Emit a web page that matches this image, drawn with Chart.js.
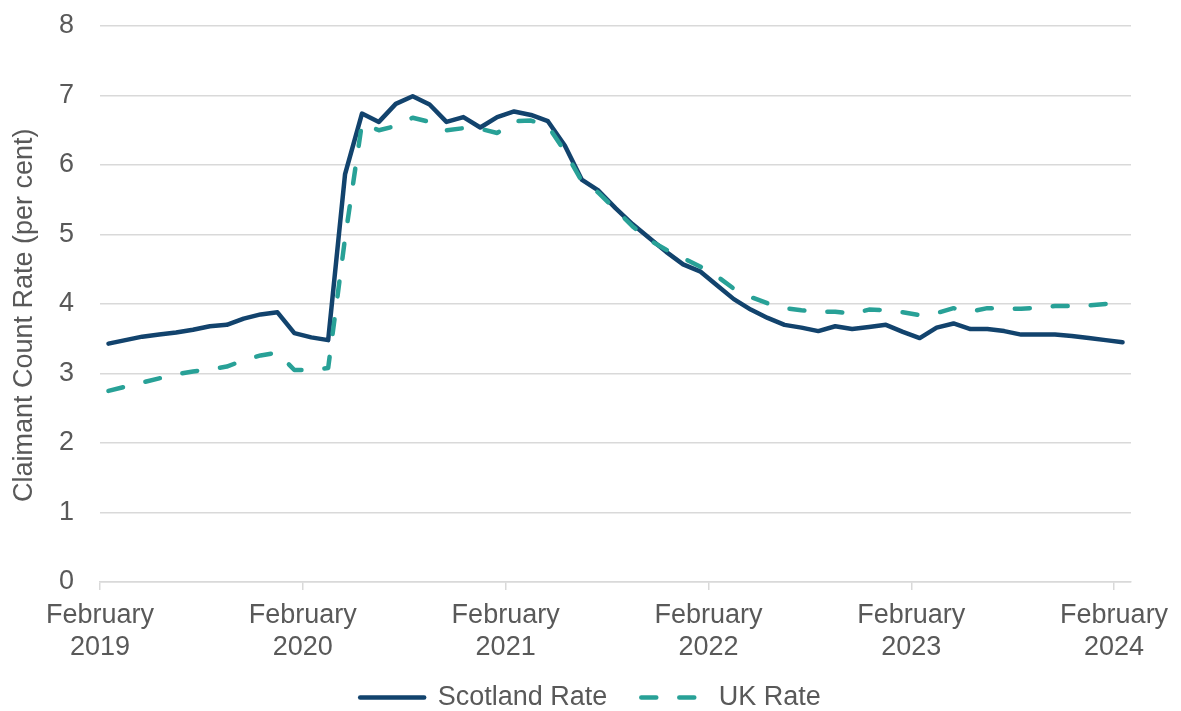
<!DOCTYPE html>
<html>
<head>
<meta charset="utf-8">
<script src="https://cdn.jsdelivr.net/npm/chart.js@4"></script>
<style>
  html, body { margin: 0; padding: 0; background: #ffffff; }
  #wrap { width: 1181px; height: 711px; }
</style>
</head>
<body>
<div id="wrap"><canvas id="lineChart" width="1181" height="711"></canvas></div>
<script>
// Monthly claimant count rates, February 2019 to February 2024
const scotlandRate = [
    3.43, 3.48, 3.53, 3.56, 3.59, 3.63, 3.68, 3.70, 3.79, 3.85, 3.88, 3.58,
    3.52, 3.48, 5.87, 6.74, 6.62, 6.88, 6.99, 6.87, 6.62, 6.69, 6.54, 6.69,
    6.77, 6.72, 6.63, 6.28, 5.79, 5.63, 5.38, 5.15, 4.95, 4.75, 4.57, 4.47,
    4.27, 4.07, 3.92, 3.80, 3.70, 3.66, 3.61, 3.68, 3.64, 3.67, 3.70, 3.60,
    3.51, 3.66, 3.72, 3.64, 3.64, 3.61, 3.56, 3.56, 3.56, 3.54, 3.51, 3.48,
    3.45
];
const ukRate = [
    2.75, 2.81, 2.87, 2.93, 2.99, 3.03, 3.06, 3.10, 3.19, 3.26, 3.30, 3.05,
    3.05, 3.08, 4.95, 6.60, 6.50, 6.56, 6.68, 6.62, 6.50, 6.53, 6.52, 6.46,
    6.63, 6.64, 6.56, 6.20, 5.77, 5.60, 5.36, 5.12, 4.92, 4.78, 4.66, 4.54,
    4.40, 4.22, 4.10, 4.01, 3.94, 3.91, 3.89, 3.89, 3.86, 3.92, 3.91, 3.88,
    3.84, 3.87, 3.94, 3.89, 3.94, 3.93, 3.93, 3.95, 3.97, 3.97, 3.98, 4.00,
    4.03
];
// month slots on the axis: labelled ticks sit at the start of each February
const tickMonths = [0, 12, 24, 36, 48, 60];
const tickLabels = [
    ['February', '2019'], ['February', '2020'], ['February', '2021'],
    ['February', '2022'], ['February', '2023'], ['February', '2024']
];
const yTicks = [0, 1, 2, 3, 4, 5, 6, 7, 8];

const toPoints = (arr) => arr.map((v, i) => ({ x: i + 0.5, y: v }));

Chart.defaults.font.family = "'Liberation Sans', Arial, sans-serif";
Chart.defaults.font.size = 27;
Chart.defaults.color = '#595959';

// centre the legend on the whole canvas, nudge it down, and let the
// two-line x labels draw past the (short) x scale box
const layoutTweaks = {
    id: 'layoutTweaks',
    afterLayout(chart) {
        const lg = chart.legend;
        if (lg) {
            lg.left = 0;
            lg.right = chart.width;
            lg.width = chart.width;
            lg.top += 10;
            lg.bottom += 10;
        }
        const xs = chart.scales.x;
        xs.bottom = chart.height;
    }
};

const ctx = document.getElementById('lineChart').getContext('2d');

let chartConfig = {
    type: 'line',
    data: {
        datasets: [
            {
                label: 'Scotland Rate',
                data: toPoints(scotlandRate),
                borderColor: '#12436d',
                backgroundColor: '#12436d',
                borderWidth: 4.5,
                borderJoinStyle: 'round',
                borderCapStyle: 'round',
                pointRadius: 0,
                tension: 0,
                order: 1
            },
            {
                label: 'UK Rate',
                data: toPoints(ukRate),
                borderColor: '#28a197',
                backgroundColor: '#28a197',
                borderWidth: 4.5,
                borderDash: [15, 23],
                borderJoinStyle: 'round',
                borderCapStyle: 'round',
                pointRadius: 0,
                tension: 0,
                order: 0
            }
        ]
    },
    plugins: [layoutTweaks],
    options: {
        responsive: false,
        animation: false,
        layout: {
            padding: { top: 26, right: 50, left: 0, bottom: 0 }
        },
        plugins: {
            tooltip: { enabled: false },
            legend: {
                display: true,
                position: 'bottom',
                labels: {
                    usePointStyle: true,
                    pointStyle: 'line',
                    pointStyleWidth: 64,
                    padding: 34,
                    font: { size: 27 },
                    color: '#595959',
                    sort: (a, b) => a.datasetIndex - b.datasetIndex,
                    generateLabels: function(chart) {
                        const items = Chart.defaults.plugins.legend.labels.generateLabels(chart);
                        items.forEach(function(item) {
                            const ds = chart.data.datasets[item.datasetIndex];
                            item.lineDash = ds.borderDash || [];
                            item.lineCap = 'round';
                            item.lineWidth = ds.borderWidth;
                            item.strokeStyle = ds.borderColor;
                            item.pointStyle = 'line';
                        });
                        return items;
                    }
                }
            }
        },
        scales: {
            x: {
                type: 'linear',
                min: 0,
                max: 61,
                afterBuildTicks: (scale) => {
                    scale.ticks = tickMonths.map(v => ({ value: v }));
                },
                afterFit: (scale) => { scale.height = 58; },
                grid: {
                    drawOnChartArea: false,
                    drawTicks: true,
                    tickLength: 8,
                    color: '#d9d9d9',
                    lineWidth: 1.5
                },
                border: { display: true, color: '#d9d9d9', width: 1.5 },
                ticks: {
                    autoSkip: false,
                    maxRotation: 0,
                    padding: 10,
                    font: { size: 27, lineHeight: 1.17 },
                    callback: (value) => {
                        const k = tickMonths.indexOf(value);
                        return k >= 0 ? tickLabels[k] : '';
                    }
                }
            },
            y: {
                min: 0,
                max: 8,
                afterBuildTicks: (scale) => {
                    scale.ticks = yTicks.map(v => ({ value: v }));
                },
                afterFit: (scale) => { scale.width = 100; },
                grid: {
                    color: '#d9d9d9',
                    lineWidth: 1.5,
                    drawTicks: true,
                    tickLength: 23,
                    tickColor: 'rgba(0,0,0,0)'
                },
                border: { display: false },
                ticks: {
                    padding: 3,
                    font: { size: 27 }
                },
                title: {
                    display: true,
                    text: 'Claimant Count Rate (per cent)\u00A0\u00A0\u00A0',
                    font: { size: 27 },
                    padding: { top: 8, bottom: 0 }
                }
            }
        }
    }
};

let myChart = new Chart(ctx, chartConfig);
</script>
</body>
</html>
